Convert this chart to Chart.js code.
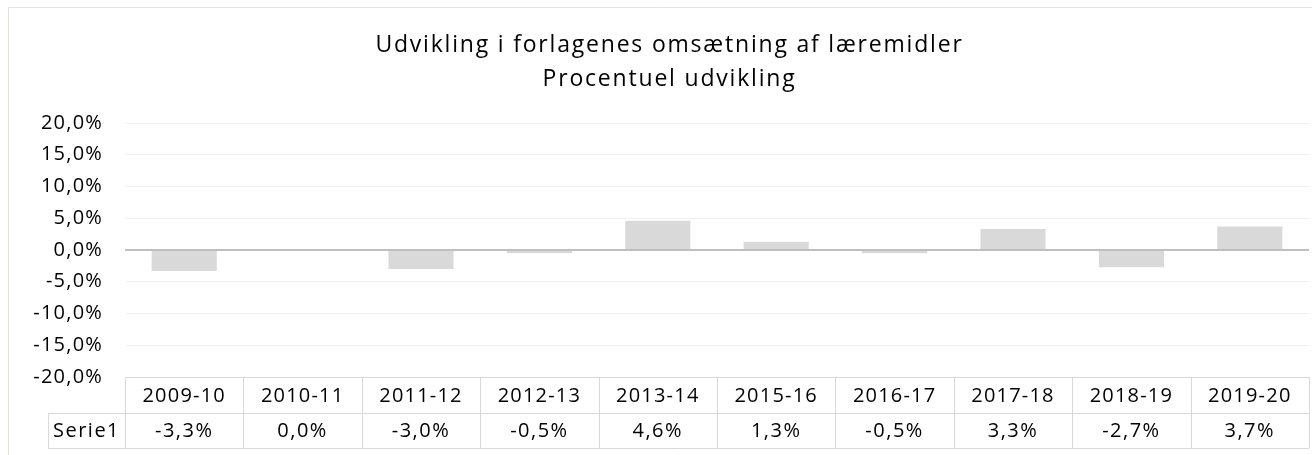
<!DOCTYPE html>
<html>
<head>
<meta charset="utf-8">
<script src="https://cdn.jsdelivr.net/npm/chart.js@4.4.1/dist/chart.umd.min.js"></script>
<style>
  html, body { margin: 0; padding: 0; background: #fff; }
  #wrap { position: relative; width: 1312px; height: 455px; }
</style>
</head>
<body>
<div id="wrap"><canvas id="barChart"></canvas></div>
<script>
// ------------ DATA ------------ //
var titleLines = ["Udvikling i forlagenes omsætning af læremidler", "Procentuel udvikling"];
var xValues = ["2009-10", "2010-11", "2011-12", "2012-13", "2013-14", "2015-16", "2016-17", "2017-18", "2018-19", "2019-20"];
var yValues = [-3.3, 0.0, -3.0, -0.5, 4.6, 1.3, -0.5, 3.3, -2.7, 3.7];
var seriesName = "Serie1";
var yTicks = [-20, -15, -10, -5, 0, 5, 10, 15, 20];

var fontFamily = "'Open Sans', 'Noto Sans', sans-serif";

function pct(v) {
    return v.toFixed(1).replace('.', ',') + '%';
}

// wide letter spacing like the Excel picture; title a bit wider still
// and nudged right (Excel centres it on the whole chart frame)
var spacingPlugin = {
    id: 'spacing',
    beforeDraw: function (chart) {
        chart.ctx.letterSpacing = '1.2px';
        var tb = chart.titleBlock;
        if (tb && !tb._spaced) {
            var orig = tb.draw;
            tb.draw = function () {
                var c = this.ctx;
                c.save();
                c.letterSpacing = '1.8px';
                c.translate(15, 0);
                orig.apply(this, arguments);
                c.restore();
            };
            tb._spaced = true;
        }
    }
};

// frame round the chart (only top and left show in the picture)
var framePlugin = {
    id: 'frame',
    beforeDraw: function (chart) {
        var ctx = chart.ctx;
        ctx.save();
        ctx.strokeStyle = '#e4e4da';
        ctx.lineWidth = 1;
        ctx.beginPath();
        ctx.moveTo(8.5, chart.height);
        ctx.lineTo(8.5, 7.5);
        ctx.lineTo(chart.width, 7.5);
        ctx.stroke();
        ctx.restore();
    }
};

// Excel style data table under the plot
var tablePlugin = {
    id: 'dataTable',
    afterDraw: function (chart) {
        var ctx = chart.ctx;
        var area = chart.chartArea;
        var x = chart.scales.x;
        var top = area.bottom;
        var mid = top + 36;
        var bottom = top + 71;
        var labelLeft = 48;
        var colW = (area.right - area.left) / xValues.length;

        ctx.save();
        ctx.strokeStyle = '#d9d9d9';
        ctx.lineWidth = 1;
        ctx.beginPath();
        ctx.moveTo(area.left, top + 0.5);
        ctx.lineTo(area.right, top + 0.5);
        ctx.moveTo(labelLeft, mid + 0.5);
        ctx.lineTo(area.right, mid + 0.5);
        ctx.moveTo(labelLeft, bottom + 0.5);
        ctx.lineTo(area.right, bottom + 0.5);
        ctx.moveTo(labelLeft + 0.5, mid);
        ctx.lineTo(labelLeft + 0.5, bottom);
        for (var i = 0; i <= xValues.length; i++) {
            var px = Math.round(area.left + i * colW) + 0.5;
            ctx.moveTo(px, top);
            ctx.lineTo(px, bottom);
        }
        ctx.stroke();

        ctx.fillStyle = '#000';
        ctx.font = '20px ' + fontFamily;
        ctx.letterSpacing = '1.5px';
        ctx.textAlign = 'center';
        ctx.textBaseline = 'middle';
        var rowY = (mid + bottom) / 2 + 1;
        ctx.fillText(seriesName, (labelLeft + area.left) / 2, rowY);
        for (var j = 0; j < yValues.length; j++) {
            ctx.fillText(pct(yValues[j]), x.getPixelForValue(j), rowY);
        }
        ctx.restore();
    }
};

new Chart("barChart", {
    type: "bar",
    data: {
        labels: xValues,
        datasets: [{
            label: seriesName,
            data: yValues,
            backgroundColor: '#d9d9d9',
            borderWidth: 0,
            categoryPercentage: 1,
            barPercentage: 0.55
        }]
    },
    options: {
        responsive: true,
        maintainAspectRatio: false,
        animation: false,
        layout: { padding: { top: 10, right: 3, bottom: 7, left: 0 } },
        plugins: {
            legend: { display: false },
            tooltip: { enabled: false },
            title: {
                display: true,
                text: titleLines,
                color: '#000',
                font: { family: fontFamily, size: 23, weight: 'normal', lineHeight: 1.5 },
                padding: { top: 18, bottom: 26 }
            }
        },
        scales: {
            x: {
                grid: { display: false },
                border: { display: false },
                ticks: {
                    color: '#000',
                    font: { family: fontFamily, size: 20 },
                    padding: -1,
                    maxRotation: 0,
                    autoSkip: false
                },
                afterFit: function (scale) { scale.height = 71; }
            },
            y: {
                min: -20,
                max: 20,
                afterBuildTicks: function (scale) {
                    scale.ticks = yTicks.map(function (v) { return { value: v }; });
                },
                grid: {
                    drawTicks: false,
                    color: function (c) { return c.tick && c.tick.value === 0 ? '#bfbfbf' : '#efefef'; },
                    lineWidth: function (c) { return c.tick && c.tick.value === 0 ? 2 : 1; }
                },
                border: { display: false },
                ticks: {
                    color: '#000',
                    font: { family: fontFamily, size: 20 },
                    padding: 22,
                    callback: function (v) { return pct(v); }
                },
                afterFit: function (scale) { scale.width = 125; }
            }
        }
    },
    plugins: [spacingPlugin, framePlugin, tablePlugin]
});
</script>
</body>
</html>
